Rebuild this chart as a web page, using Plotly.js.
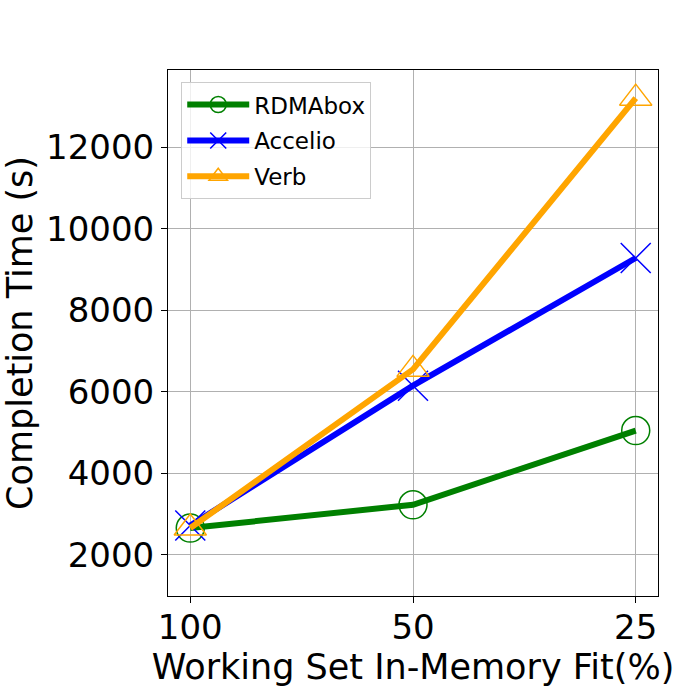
<!DOCTYPE html>
<html>
<head>
<meta charset="utf-8">
<script src="https://cdn.plot.ly/plotly-3.0.1.min.js"></script>
<style>
  body { margin: 0; }
  #chart { width: 700px; height: 700px; }
</style>
</head>
<body>
<div id="chart"></div>
<script>
// Working set fit categories (x axis)
const fitLabels = ['100', '50', '25'];

// Completion times in seconds
const rdmaboxTimes = [2660, 3230, 5050];
const accelioTimes = [2720, 6150, 9280];
const verbTimes = [2660, 6550, 13200];

const seriesNames = ['RDMAbox', 'Accelio', 'Verb'];

function makeTrace(name, y, color, symbol, size) {
    return {
        x: fitLabels,
        y: y,
        name: name,
        legendgroup: name,
        type: 'scatter',
        mode: 'lines+markers',
        line: { color: color, width: 6 },
        marker: {
            symbol: symbol,
            size: size,
            color: color,
            line: { color: color, width: 1.5 }
        }
    };
}

const traces = [
    makeTrace(seriesNames[0], rdmaboxTimes, 'green', 'circle-open', 28),
    makeTrace(seriesNames[1], accelioTimes, 'blue', 'x-thin-open', 30),
    makeTrace(seriesNames[2], verbTimes, 'orange', 'triangle-up-open', 28)
];

const labelFont = { family: 'DejaVu Sans', size: 35, color: 'black' };

const layout = {
    width: 700,
    height: 700,
    margin: { l: 168, r: 42, t: 70, b: 104 },
    paper_bgcolor: 'white',
    plot_bgcolor: 'white',
    font: { family: 'DejaVu Sans', color: 'black' },
    showlegend: true,
    legend: {
        x: 0.027, y: 0.977,
        xanchor: 'left', yanchor: 'top',
        bgcolor: 'rgba(255,255,255,0.8)',
        bordercolor: '#cccccc',
        borderwidth: 1,
        font: { family: 'DejaVu Sans', size: 23, color: 'black' },
        itemwidth: 62,
        tracegroupgap: 3
    },
    xaxis: {
        type: 'category',
        range: [-0.1, 2.1],
        showgrid: true,
        gridcolor: '#b0b0b0',
        gridwidth: 1,
        showline: true,
        linecolor: 'black',
        linewidth: 1,
        mirror: true,
        ticks: 'outside',
        ticklen: 6,
        tickcolor: 'black',
        ticklabelstandoff: -5,
        tickfont: { family: 'DejaVu Sans', size: 34, color: 'black' },
        title: { text: 'Working Set In-Memory Fit(%)', font: labelFont, standoff: 2 },
        zeroline: false
    },
    yaxis: {
        range: [993, 13890],
        tickvals: [2000, 4000, 6000, 8000, 10000, 12000],
        ticktext: ['2000', '4000', '6000', '8000', '10000', '12000'],
        showgrid: true,
        gridcolor: '#b0b0b0',
        gridwidth: 1,
        showline: true,
        linecolor: 'black',
        linewidth: 1,
        mirror: true,
        ticks: 'outside',
        ticklen: 6,
        tickcolor: 'black',
        tickfont: { family: 'DejaVu Sans', size: 34, color: 'black' },
        title: { text: 'Completion Time (s)', font: labelFont, standoff: 10 },
        zeroline: false
    }
};

Plotly.newPlot('chart', traces, layout, { displayModeBar: false });
</script>
</body>
</html>
